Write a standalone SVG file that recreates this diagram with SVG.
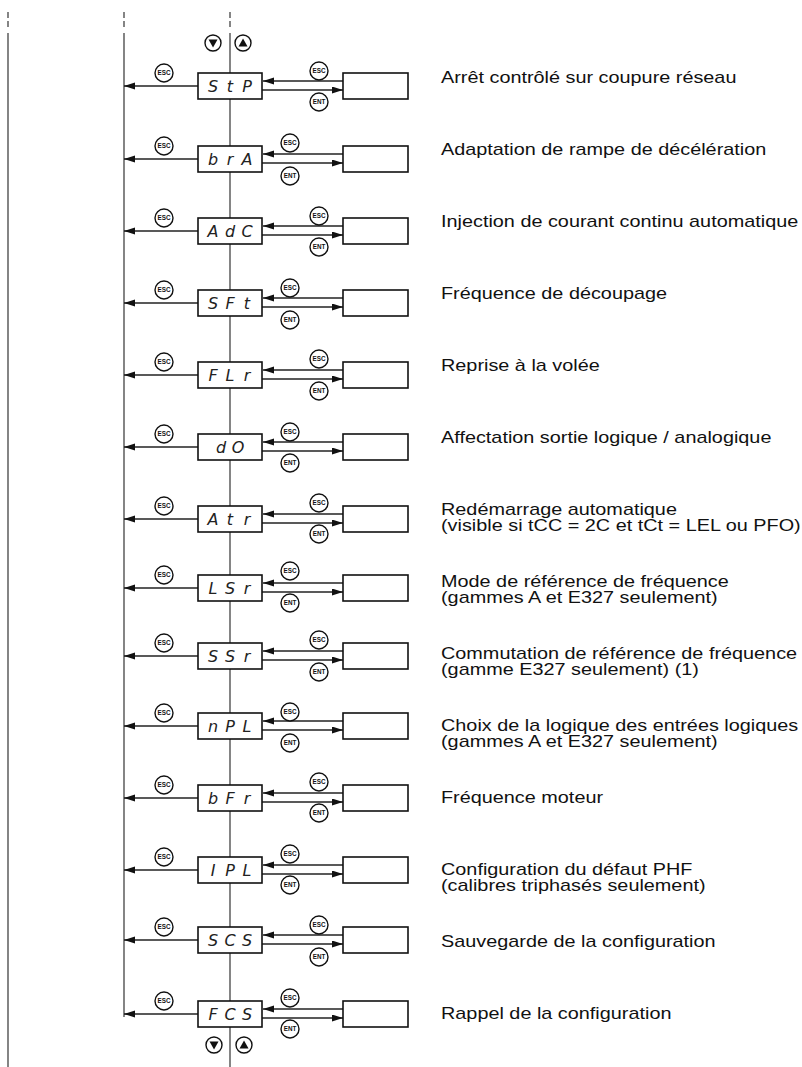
<svg xmlns="http://www.w3.org/2000/svg" width="802" height="1067" viewBox="0 0 802 1067">
<style>
.v{stroke:#444;stroke-width:1.3;fill:none}
.ln{stroke:#222;stroke-width:1.3;fill:none}
.box{fill:#fff;stroke:#111;stroke-width:1.6}
.btn{fill:#fff;stroke:#111;stroke-width:1.4}
.bt{font-family:"Liberation Sans",Arial,sans-serif;font-size:6.3px;font-weight:bold;fill:#111;text-anchor:middle}
.seg{font-family:"DejaVu Sans","Liberation Sans",sans-serif;font-style:italic;font-size:16px;fill:#222;text-anchor:middle}
.lbl{font-family:"Liberation Sans",Arial,sans-serif;font-size:16px;fill:#111}
</style>
<defs>
<marker id="ah" markerUnits="userSpaceOnUse" markerWidth="12" markerHeight="8" refX="11" refY="3.5" orient="auto"><path d="M0,0 L11,3.5 L0,7 z" fill="#111"/></marker>
<g id="esc"><circle r="9" class="btn"/><text class="bt" y="2.2">ESC</text></g>
<g id="ent"><circle r="9" class="btn"/><text class="bt" y="2.2">ENT</text></g>
</defs>

<g id="rails">
<path class="v" d="M8,12 V18 M8,21 V27 M8,33 V1067"/>
<path class="v" d="M124,12 V18 M124,21 V27 M124,33 V1017"/>
<path class="v" d="M230,12 V18 M230,21 V27 M230,33 V1067"/>
</g>

<g id="nav-top">
<circle cx="213" cy="43" r="8" class="btn"/><path d="M208.5,39.5 L217.5,39.5 L213,47.5 z" fill="#111"/>
<circle cx="243" cy="43" r="8" class="btn"/><path d="M238.5,46.5 L247.5,46.5 L243,38.5 z" fill="#111"/>
</g>
<g id="nav-bottom">
<circle cx="214" cy="1045" r="8" class="btn"/><path d="M209.5,1041.5 L218.5,1041.5 L214,1049.5 z" fill="#111"/>
<circle cx="244" cy="1045" r="8" class="btn"/><path d="M239.5,1048.5 L248.5,1048.5 L244,1040.5 z" fill="#111"/>
</g>

<g id="connectors">
<path class="ln" marker-end="url(#ah)" d="M198,86 H124"/><path class="ln" marker-end="url(#ah)" d="M343,81 H263"/><path class="ln" marker-end="url(#ah)" d="M262,90 H343"/>
<path class="ln" marker-end="url(#ah)" d="M198,159 H124"/><path class="ln" marker-end="url(#ah)" d="M343,154 H263"/><path class="ln" marker-end="url(#ah)" d="M262,163 H343"/>
<path class="ln" marker-end="url(#ah)" d="M198,231 H124"/><path class="ln" marker-end="url(#ah)" d="M343,226 H263"/><path class="ln" marker-end="url(#ah)" d="M262,235 H343"/>
<path class="ln" marker-end="url(#ah)" d="M198,303 H124"/><path class="ln" marker-end="url(#ah)" d="M343,298 H263"/><path class="ln" marker-end="url(#ah)" d="M262,307 H343"/>
<path class="ln" marker-end="url(#ah)" d="M198,375 H124"/><path class="ln" marker-end="url(#ah)" d="M343,370 H263"/><path class="ln" marker-end="url(#ah)" d="M262,379 H343"/>
<path class="ln" marker-end="url(#ah)" d="M198,447 H124"/><path class="ln" marker-end="url(#ah)" d="M343,442 H263"/><path class="ln" marker-end="url(#ah)" d="M262,451 H343"/>
<path class="ln" marker-end="url(#ah)" d="M198,519 H124"/><path class="ln" marker-end="url(#ah)" d="M343,514 H263"/><path class="ln" marker-end="url(#ah)" d="M262,523 H343"/>
<path class="ln" marker-end="url(#ah)" d="M198,588 H124"/><path class="ln" marker-end="url(#ah)" d="M343,583 H263"/><path class="ln" marker-end="url(#ah)" d="M262,592 H343"/>
<path class="ln" marker-end="url(#ah)" d="M198,656 H124"/><path class="ln" marker-end="url(#ah)" d="M343,651 H263"/><path class="ln" marker-end="url(#ah)" d="M262,660 H343"/>
<path class="ln" marker-end="url(#ah)" d="M198,726 H124"/><path class="ln" marker-end="url(#ah)" d="M343,721 H263"/><path class="ln" marker-end="url(#ah)" d="M262,730 H343"/>
<path class="ln" marker-end="url(#ah)" d="M198,798 H124"/><path class="ln" marker-end="url(#ah)" d="M343,793 H263"/><path class="ln" marker-end="url(#ah)" d="M262,802 H343"/>
<path class="ln" marker-end="url(#ah)" d="M198,870 H124"/><path class="ln" marker-end="url(#ah)" d="M343,865 H263"/><path class="ln" marker-end="url(#ah)" d="M262,874 H343"/>
<path class="ln" marker-end="url(#ah)" d="M198,940 H124"/><path class="ln" marker-end="url(#ah)" d="M343,935 H263"/><path class="ln" marker-end="url(#ah)" d="M262,944 H343"/>
<path class="ln" marker-end="url(#ah)" d="M198,1014 H124"/><path class="ln" marker-end="url(#ah)" d="M343,1009 H263"/><path class="ln" marker-end="url(#ah)" d="M262,1018 H343"/>
</g>

<g id="row-StP">
<use href="#esc" x="164" y="73"/><rect class="box" x="198" y="73" width="64" height="26"/><text class="seg" x="213 230 247" y="92">StP</text>
<use href="#esc" x="319" y="71"/><use href="#ent" x="319" y="102"/><rect class="box" x="343" y="73" width="65" height="26"/>
<text class="lbl" transform="matrix(1.24 0 0 1 441 0)" y="83">Arrêt contrôlé sur coupure réseau</text>
</g>
<g id="row-brA">
<use href="#esc" x="164" y="146"/><rect class="box" x="198" y="146" width="64" height="26"/><text class="seg" x="213 230 247" y="165">brA</text>
<use href="#esc" x="290" y="143"/><use href="#ent" x="290" y="176"/><rect class="box" x="343" y="146" width="65" height="26"/>
<text class="lbl" transform="matrix(1.24 0 0 1 441 0)" y="155">Adaptation de rampe de décélération</text>
</g>
<g id="row-AdC">
<use href="#esc" x="164" y="218"/><rect class="box" x="198" y="218" width="64" height="26"/><text class="seg" x="213 230 247" y="237">AdC</text>
<use href="#esc" x="319" y="216"/><use href="#ent" x="319" y="247"/><rect class="box" x="343" y="218" width="65" height="26"/>
<text class="lbl" transform="matrix(1.24 0 0 1 441 0)" y="227">Injection de courant continu automatique</text>
</g>
<g id="row-SFt">
<use href="#esc" x="164" y="290"/><rect class="box" x="198" y="290" width="64" height="26"/><text class="seg" x="213 230 247" y="309">SFt</text>
<use href="#esc" x="290" y="288"/><use href="#ent" x="290" y="320"/><rect class="box" x="343" y="290" width="65" height="26"/>
<text class="lbl" transform="matrix(1.24 0 0 1 441 0)" y="299">Fréquence de découpage</text>
</g>
<g id="row-FLr">
<use href="#esc" x="164" y="362"/><rect class="box" x="198" y="362" width="64" height="26"/><text class="seg" x="213 230 247" y="381">FLr</text>
<use href="#esc" x="319" y="359"/><use href="#ent" x="319" y="391"/><rect class="box" x="343" y="362" width="65" height="26"/>
<text class="lbl" transform="matrix(1.24 0 0 1 441 0)" y="371">Reprise à la volée</text>
</g>
<g id="row-dO">
<use href="#esc" x="164" y="434"/><rect class="box" x="198" y="434" width="64" height="26"/><text class="seg" x="221 238" y="453">dO</text>
<use href="#esc" x="290" y="432"/><use href="#ent" x="290" y="463"/><rect class="box" x="343" y="434" width="65" height="26"/>
<text class="lbl" transform="matrix(1.24 0 0 1 441 0)" y="443">Affectation sortie logique / analogique</text>
</g>
<g id="row-Atr">
<use href="#esc" x="164" y="506"/><rect class="box" x="198" y="506" width="64" height="26"/><text class="seg" x="213 230 247" y="525">Atr</text>
<use href="#esc" x="319" y="503"/><use href="#ent" x="319" y="534"/><rect class="box" x="343" y="506" width="65" height="26"/>
<text class="lbl" transform="matrix(1.24 0 0 1 441 0)" y="515">Redémarrage automatique</text>
<text class="lbl" transform="matrix(1.24 0 0 1 441 0)" y="531">(visible si tCC = 2C et tCt = LEL ou PFO)</text>
</g>
<g id="row-LSr">
<use href="#esc" x="164" y="575"/><rect class="box" x="198" y="575" width="64" height="26"/><text class="seg" x="213 230 247" y="594">LSr</text>
<use href="#esc" x="290" y="571"/><use href="#ent" x="290" y="603"/><rect class="box" x="343" y="575" width="65" height="26"/>
<text class="lbl" transform="matrix(1.24 0 0 1 441 0)" y="587">Mode de référence de fréquence</text>
<text class="lbl" transform="matrix(1.24 0 0 1 441 0)" y="603">(gammes A et E327 seulement)</text>
</g>
<g id="row-SSr">
<use href="#esc" x="164" y="643"/><rect class="box" x="198" y="643" width="64" height="26"/><text class="seg" x="213 230 247" y="662">SSr</text>
<use href="#esc" x="319" y="640"/><use href="#ent" x="319" y="672"/><rect class="box" x="343" y="643" width="65" height="26"/>
<text class="lbl" transform="matrix(1.24 0 0 1 441 0)" y="659">Commutation de référence de fréquence</text>
<text class="lbl" transform="matrix(1.24 0 0 1 441 0)" y="675">(gamme E327 seulement) (1)</text>
</g>
<g id="row-nPL">
<use href="#esc" x="164" y="713"/><rect class="box" x="198" y="713" width="64" height="26"/><text class="seg" x="213 230 247" y="732">nPL</text>
<use href="#esc" x="290" y="712"/><use href="#ent" x="290" y="743"/><rect class="box" x="343" y="713" width="65" height="26"/>
<text class="lbl" transform="matrix(1.24 0 0 1 441 0)" y="731">Choix de la logique des entrées logiques</text>
<text class="lbl" transform="matrix(1.24 0 0 1 441 0)" y="747">(gammes A et E327 seulement)</text>
</g>
<g id="row-bFr">
<use href="#esc" x="164" y="785"/><rect class="box" x="198" y="785" width="64" height="26"/><text class="seg" x="213 230 247" y="804">bFr</text>
<use href="#esc" x="319" y="782"/><use href="#ent" x="319" y="813"/><rect class="box" x="343" y="785" width="65" height="26"/>
<text class="lbl" transform="matrix(1.24 0 0 1 441 0)" y="803">Fréquence moteur</text>
</g>
<g id="row-IPL">
<use href="#esc" x="164" y="857"/><rect class="box" x="198" y="857" width="64" height="26"/><text class="seg" x="213 230 247" y="876">IPL</text>
<use href="#esc" x="290" y="854"/><use href="#ent" x="290" y="885"/><rect class="box" x="343" y="857" width="65" height="26"/>
<text class="lbl" transform="matrix(1.24 0 0 1 441 0)" y="875">Configuration du défaut PHF</text>
<text class="lbl" transform="matrix(1.24 0 0 1 441 0)" y="891">(calibres triphasés seulement)</text>
</g>
<g id="row-SCS">
<use href="#esc" x="164" y="927"/><rect class="box" x="198" y="927" width="64" height="26"/><text class="seg" x="213 230 247" y="946">SCS</text>
<use href="#esc" x="319" y="925"/><use href="#ent" x="319" y="957"/><rect class="box" x="343" y="927" width="65" height="26"/>
<text class="lbl" transform="matrix(1.24 0 0 1 441 0)" y="947">Sauvegarde de la configuration</text>
</g>
<g id="row-FCS">
<use href="#esc" x="164" y="1001"/><rect class="box" x="198" y="1001" width="64" height="26"/><text class="seg" x="213 230 247" y="1020">FCS</text>
<use href="#esc" x="290" y="998"/><use href="#ent" x="290" y="1029"/><rect class="box" x="343" y="1001" width="65" height="26"/>
<text class="lbl" transform="matrix(1.24 0 0 1 441 0)" y="1019">Rappel de la configuration</text>
</g>
</svg>
